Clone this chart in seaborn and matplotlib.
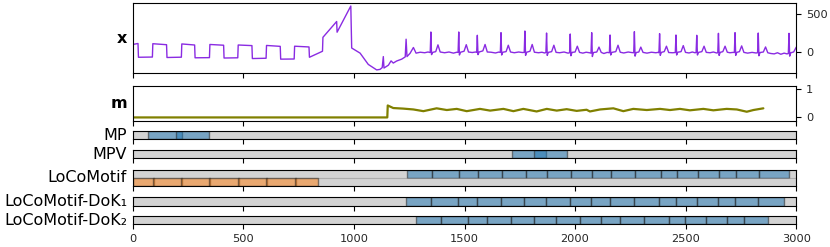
import matplotlib
matplotlib.use("Agg")
import matplotlib.pyplot as plt
import pandas as pd
import seaborn as sns

sns.set_theme(style="ticks")
plt.rcParams['font.family'] = ['DejaVu Sans']

# ---------------- data ----------------
X_T = [0, 24, 26, 89, 91, 153, 155, 220, 222, 280, 282, 347, 349, 411, 413, 475, 477, 539, 541,
       603, 605, 667, 669, 730, 732, 797, 799, 858, 860, 922, 924, 986, 990, 1028, 1065, 1103,
       1118, 1128, 1133, 1136, 1156, 1168, 1178, 1193, 1216, 1232, 1236, 1240, 1254, 1269, 1281,
       1300, 1320, 1335,
       1345, 1348, 1351, 1356, 1370, 1380, 1390, 1410, 1430, 1450, 1465,
       1471, 1474, 1477, 1482, 1498, 1508, 1518, 1535, 1550,
       1555, 1558, 1561, 1566, 1583, 1593, 1603, 1620, 1640, 1655,
       1662, 1665, 1668, 1673, 1688, 1698, 1708, 1725, 1745, 1762,
       1770, 1773, 1776, 1781, 1796, 1806, 1816, 1835, 1850, 1862,
       1868, 1871, 1874, 1879, 1894, 1904, 1914, 1930, 1950, 1968,
       1975, 1978, 1981, 1986, 2000, 2010, 2020, 2035, 2050, 2065,
       2072, 2075, 2078, 2083, 2098, 2108, 2118, 2130, 2145,
       2155, 2158, 2161, 2166, 2184, 2194, 2204, 2220, 2240, 2255,
       2265, 2268, 2271, 2276, 2288, 2297, 2307, 2325, 2345, 2365, 2375,
       2379, 2382, 2385, 2390, 2403, 2413, 2423, 2440,
       2453, 2456, 2459, 2464, 2479, 2489, 2499, 2515, 2530, 2542,
       2547, 2550, 2553, 2558, 2573, 2583, 2593, 2610, 2625, 2640,
       2645, 2648, 2651, 2656, 2668, 2678, 2688, 2700, 2715,
       2720, 2723, 2726, 2731, 2743, 2753, 2763, 2780, 2800, 2818,
       2825, 2828, 2831, 2836, 2851, 2861, 2871, 2885, 2900, 2915, 2930, 2945, 2958,
       2964, 2967, 2970, 2975, 2988, 3000]
X_V = [95, 108, -75, -72, 105, 92, -78, -74, 102, 88, -82, -80, 95, 85, -85, -82, 88, 80, -92,
       -88, 82, 70, -100, -98, 72, 62, -75, 5, 190, 400, 258, 606, 48, -20, -170, -243,
       -236, -212, -66, -218, -180, -123, -152, -125, -100, -70, 165, -66, -22, 55, -20,
       -8, -15, -5,
       -12, 261, -40, -10, 0, 90, -5, -15, -5, -20, -8,
       -10, 261, -45, -8, 5, 92, -5, -12, -5,
       -10, 217, -40, -5, 10, 95, -5, -8, -18, -6,
       -10, 252, -45, -8, 0, 85, -5, -15, -5, -12,
       -10, 274, -50, -8, 5, 95, -8, -15, -8, -18,
       -12, 247, -50, -10, 0, 85, -10, -15, -5, -20,
       -15, 234, -55, -10, -5, 72, -10, -20, -8, -15,
       -20, 252, -65, -12, -5, 60, -10, -25, -10,
       -15, 221, -45, -10, 0, 85, -8, -18, -5, -12,
       -15, 265, -60, -12, -5, 60, -10, -20, -8, -15, -10,
       -15, 239, -50, -10, 0, 72, -12, -15,
       -12, 221, -45, -8, 0, 80, -10, -18, -5, -15,
       -12, 217, -45, -10, 0, 72, -10, -15, -5, -18,
       -15, 243, -50, -10, 0, 72, -8, -15, -10,
       -12, 252, -50, -10, 0, 76, -10, -20, -10, -18,
       -15, 247, -55, -12, -5, 62, -15, -25, -30, -15, -35, -20, -30,
       -25, 243, -60, -15, -5, 60]

M_T = [0, 1151, 1153, 1178, 1223, 1269, 1314, 1374, 1420, 1465, 1510, 1570, 1616, 1676, 1721,
       1766, 1826, 1872, 1917, 1962, 2007, 2052, 2067, 2113, 2173, 2218, 2263, 2324, 2384,
       2429, 2474, 2519, 2580, 2625, 2685, 2731, 2776, 2806, 2851]
M_V = [0, 0, 0.42, 0.33, 0.31, 0.28, 0.22, 0.32, 0.26, 0.30, 0.22, 0.30, 0.24, 0.30, 0.22,
       0.30, 0.21, 0.30, 0.24, 0.29, 0.23, 0.27, 0.21, 0.28, 0.32, 0.22, 0.30, 0.26, 0.30,
       0.26, 0.30, 0.25, 0.30, 0.25, 0.30, 0.28, 0.20, 0.26, 0.32]

METHODS = ["MP", "MPV", "LoCoMotif", "LoCoMotif-DoK\u2081", "LoCoMotif-DoK\u2082"]

MP_BLUE = [(68, 221), (196, 346)]
MPV_BLUE = [(1716, 1867), (1814, 1965)]
LOCO_BLUE = [(1238, 1351), (1351, 1476), (1476, 1559), (1559, 1669), (1669, 1776),
             (1776, 1873), (1873, 1980), (1980, 2075), (2075, 2162), (2162, 2269),
             (2269, 2387), (2387, 2459), (2459, 2554), (2554, 2650), (2650, 2726),
             (2726, 2830), (2830, 2965)]
LOCO_ORANGE = [(0, 95), (91, 223), (219, 351), (347, 481), (477, 608), (604, 737), (733, 836)]
DOK1_BLUE = [(1236, 1347), (1347, 1472), (1472, 1555), (1555, 1665), (1665, 1770),
             (1770, 1867), (1867, 1977), (1977, 2072), (2072, 2158), (2158, 2266),
             (2266, 2381), (2381, 2456), (2456, 2550), (2550, 2647), (2647, 2723),
             (2723, 2827), (2827, 2943)]
DOK2_BLUE = [(1279, 1394), (1394, 1517), (1517, 1600), (1600, 1709), (1709, 1816),
             (1816, 1914), (1914, 2022), (2022, 2117), (2117, 2203), (2203, 2311),
             (2311, 2426), (2426, 2497), (2497, 2592), (2592, 2688), (2688, 2765),
             (2765, 2872)]

ROWS = {
    "MP": [MP_BLUE],
    "MPV": [MPV_BLUE],
    "LoCoMotif": [LOCO_BLUE, LOCO_ORANGE],
    "LoCoMotif-DoK\u2081": [DOK1_BLUE],
    "LoCoMotif-DoK\u2082": [DOK2_BLUE],
}
ROW_COLORS = ["tab:blue", "tab:orange"]

# ---------------- figure ----------------
W, H = 830, 247
fig = plt.figure(figsize=(W / 100, H / 100), dpi=100)

def add_ax(top_px, bot_px):
    left = 132.7 / W
    width = (796.3 - 132.7) / W
    return fig.add_axes([left, 1 - bot_px / H, width, (bot_px - top_px) / H])

LABEL_FS = 11.5
TICK_FS = 8.2
XTICKS = [0, 500, 1000, 1500, 2000, 2500, 3000]

def style_ax(ax, last=False):
    ax.set_xlim(0, 3000)
    ax.set_xticks(XTICKS)
    ax.tick_params(axis="both", labelsize=TICK_FS, length=3.5, width=0.8,
                   color="black", direction="out")
    if not last:
        ax.set_xticklabels([])
    for s in ax.spines.values():
        s.set_visible(True)
        s.set_color("black")
        s.set_linewidth(0.8)
    ax.set_xlabel("")
    ax.set_ylabel("")

def side_label(ax, text, bold=False):
    ax.text(-0.0085, 0.5, text, transform=ax.transAxes, ha="right", va="center",
            fontsize=LABEL_FS, fontweight="bold" if bold else "normal", color="black")

# x series
ax_x = add_ax(3.3, 72.7)
dfx = pd.DataFrame({"t": X_T, "v": X_V})
sns.lineplot(data=dfx, x="t", y="v", ax=ax_x, color="blueviolet", lw=1.0,
             estimator=None, sort=False)
ax_x.set_ylim(-280, 642)
ax_x.set_yticks([0, 500])
ax_x.yaxis.tick_right()
style_ax(ax_x)
side_label(ax_x, "x", bold=True)

# m series
ax_m = add_ax(85.7, 120.7)
dfm = pd.DataFrame({"t": M_T, "v": M_V})
sns.lineplot(data=dfm, x="t", y="v", ax=ax_m, color="olive", lw=1.6,
             estimator=None, sort=False)
ax_m.set_ylim(-0.115, 1.115)
ax_m.set_yticks([0, 1])
ax_m.yaxis.tick_right()
style_ax(ax_m)
side_label(ax_m, "m", bold=True)

# motif rows
BAR_POS = {
    "MP": (131.0, 139.3),
    "MPV": (150.0, 158.3),
    "LoCoMotif": (170.0, 185.7),
    "LoCoMotif-DoK\u2081": (197.3, 206.0),
    "LoCoMotif-DoK\u2082": (216.0, 224.3),
}
for i, name in enumerate(METHODS):
    top, bot = BAR_POS[name]
    ax = add_ax(top, bot)
    rows = ROWS[name]
    n = len(rows)
    for r, occ in enumerate(rows):
        y0 = n - 1 - r
        ax.broken_barh([(0, 3000)], (y0, 1), facecolors="lightgrey",
                       edgecolors=(0, 0, 0, 0.15), linewidth=0.8)
        ax.broken_barh([(b, e - b) for b, e in occ], (y0, 1),
                       facecolors=ROW_COLORS[r], alpha=None,
                       edgecolors=(0.15, 0.15, 0.15, 0.55), linewidth=1.0)
        for coll in ax.collections[-1:]:
            fc = coll.get_facecolors()
            fc[:, 3] = 0.5
            coll.set_facecolors(fc)
    ax.set_ylim(0, n)
    ax.set_yticks([])
    style_ax(ax, last=(i == len(METHODS) - 1))
    side_label(ax, name)

fig.savefig("out.png", dpi=100)
